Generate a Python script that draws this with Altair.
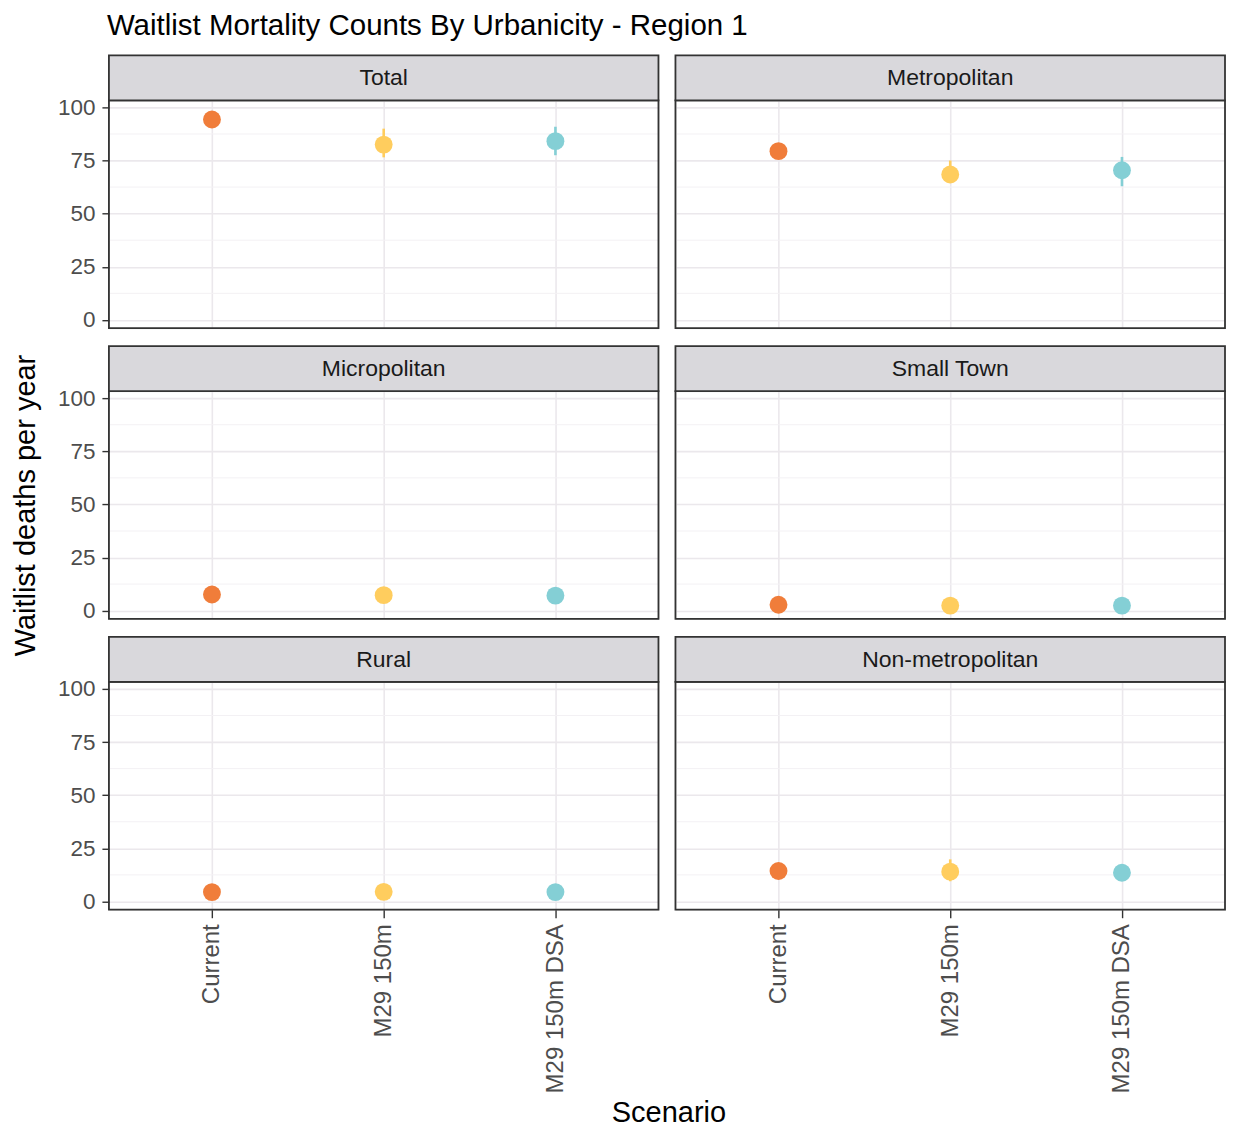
import altair as alt
import pandas as pd

panels = ["Total", "Metropolitan", "Micropolitan", "Small Town", "Rural", "Non-metropolitan"]
scenarios = ["Current", "M29 150m", "M29 150m DSA"]
colors = ["#F07D3A", "#FFCD5E", "#84CFD5"]

total_mean = [94.3, 82.5, 84.1]
total_lo = [94.3, 76.5, 77.5]
total_hi = [94.3, 90.0, 90.9]

metro_mean = [79.4, 68.4, 70.4]
metro_lo = [79.4, 64.5, 62.9]
metro_hi = [79.4, 75.0, 76.7]

micro_mean = [7.6, 7.3, 7.1]
micro_lo = [7.6, 6.0, 5.8]
micro_hi = [7.6, 8.6, 8.4]

small_mean = [2.8, 2.4, 2.4]
small_lo = [2.8, 1.5, 1.5]
small_hi = [2.8, 3.3, 3.3]

rural_mean = [4.4, 4.5, 4.4]
rural_lo = [4.4, 3.4, 3.3]
rural_hi = [4.4, 5.6, 5.5]

nonmetro_mean = [14.3, 14.0, 13.5]
nonmetro_lo = [14.3, 9.5, 10.0]
nonmetro_hi = [14.3, 19.8, 17.5]

y_ticks = [0, 25, 50, 75, 100]
y_minor = [12.5, 37.5, 62.5, 87.5]

means = [total_mean, metro_mean, micro_mean, small_mean, rural_mean, nonmetro_mean]
lows = [total_lo, metro_lo, micro_lo, small_lo, rural_lo, nonmetro_lo]
highs = [total_hi, metro_hi, micro_hi, small_hi, rural_hi, nonmetro_hi]

rows = []
for p, m, lo, hi in zip(panels, means, lows, highs):
    for s, mv, lv, hv in zip(scenarios, m, lo, hi):
        rows.append({"panel": p, "scenario": s, "value": mv, "lo": lv, "hi": hv})
df = pd.DataFrame(rows)
minor_df = pd.DataFrame({"v": y_minor})
one = pd.DataFrame({"a": [0]})

FONT = "Liberation Sans"
W, H = 550, 228
GRID = "#EBE8EC"
Y_DOMAIN = [-3.9, 103.3]

yscale = alt.Scale(domain=Y_DOMAIN, nice=False, zero=False)
xscale = alt.Scale(type="point", padding=0.6, domain=scenarios)
cscale = alt.Scale(domain=scenarios, range=colors)


def panel(name, r, c):
    bottom = r == 2
    left = c == 0
    xkw = dict(labelAngle=-90, labels=bottom, ticks=bottom, domain=False,
               grid=True, gridColor=GRID, gridWidth=1.6,
               labelFontSize=24, labelColor="#4D4D4D", labelFont=FONT,
               tickColor="#333333", tickSize=8, tickWidth=1.4, labelPadding=6)
    if bottom and left:
        xaxis = alt.Axis(title="Scenario", titleFontSize=29, titleFont=FONT,
                         titleFontWeight="normal", titleColor="#000000",
                         titleX=W + 10, titleY=212, titleAlign="center",
                         titleBaseline="alphabetic", **xkw)
    else:
        xaxis = alt.Axis(title=None, **xkw)
    ykw = dict(values=y_ticks, labels=left, ticks=left, domain=False,
               grid=True, gridColor=GRID, gridWidth=1.6,
               labelFontSize=22.5, labelColor="#4D4D4D", labelFont=FONT,
               tickColor="#333333", tickSize=7, tickWidth=1.4, labelPadding=7)
    if left:
        yaxis = alt.Axis(title="Waitlist deaths per year", titleFontSize=29,
                         titleFont=FONT, titleFontWeight="normal",
                         titleColor="#000000", titlePadding=17,
                         titleOpacity=1 if r == 1 else 0, **ykw)
    else:
        yaxis = alt.Axis(title=None, **ykw)

    base = alt.Chart(df).transform_filter(alt.datum.panel == name)
    minor = alt.Chart(minor_df).mark_rule(color="#F3F1F4", strokeWidth=1).encode(
        y=alt.Y("v:Q", scale=yscale, axis=yaxis)
    )
    bars = base.mark_rule(strokeWidth=2.6).encode(
        x=alt.X("scenario:N", scale=xscale, axis=xaxis, sort=scenarios),
        y=alt.Y("lo:Q", scale=yscale),
        y2="hi:Q",
        color=alt.Color("scenario:N", scale=cscale, legend=None),
    )
    pts = base.mark_circle(size=320, opacity=1).encode(
        x=alt.X("scenario:N", scale=xscale, sort=scenarios),
        y=alt.Y("value:Q", scale=yscale),
        color=alt.Color("scenario:N", scale=cscale, legend=None),
    )
    frame = alt.Chart(one).mark_rect(filled=False, stroke="#333333", strokeWidth=1.8).encode(
        x=alt.value(0), x2=alt.value(W), y=alt.value(0), y2=alt.value(H)
    )
    strip = alt.Chart(one).mark_rect(fill="#D9D8DC", stroke="#333333", strokeWidth=1.8).encode(
        x=alt.value(0), x2=alt.value(W), y=alt.value(-45), y2=alt.value(0)
    )
    label = alt.Chart(one).mark_text(font=FONT, fontSize=23, color="#1A1A1A",
                                     align="center", baseline="middle").encode(
        x=alt.value(W / 2), y=alt.value(-22), text=alt.value(name)
    )
    return alt.layer(minor, bars, pts, frame, strip, label).properties(width=W, height=H)


cells = [panel(panels[i], i // 2, i % 2) for i in range(6)]

chart = alt.concat(*cells, columns=2, spacing={"row": 63, "column": 17},
                   bounds="flush").properties(
    title=alt.TitleParams("Waitlist Mortality Counts By Urbanicity - Region 1",
                          anchor="start", fontSize=29.5, font=FONT,
                          fontWeight="normal", color="#000000", offset=13, dx=96)
).configure_view(stroke=None).configure(
    padding={"left": 2, "top": 2, "right": 0, "bottom": 0}
)

chart.save("out.html", embed_options={"renderer": "svg", "actions": False})
